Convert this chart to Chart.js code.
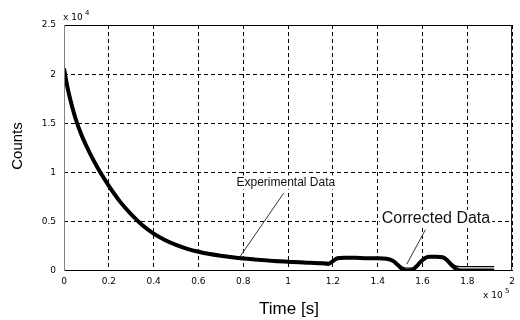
<!DOCTYPE html>
<html>
<head>
  <meta charset="UTF-8" />
  <title>Counts vs Time</title>
  <script src="https://cdn.jsdelivr.net/npm/chart.js"></script>
  <style>
    body { margin: 0; background: #fff; }
    #chart { display: block; }
  </style>
</head>
<body>
  <canvas id="chart" width="520" height="320"></canvas>
  <script>
    // time in units of 1e5 s, counts in units of 1e4
    const timeExp = [0, 0.01, 0.025, 0.05, 0.075, 0.1, 0.125, 0.15, 0.175, 0.2, 0.25, 0.3, 0.35, 0.4, 0.45, 0.5, 0.55, 0.6, 0.65, 0.7, 0.75, 0.8, 0.85, 0.9, 0.95, 1.0, 1.05, 1.1, 1.15, 1.18, 1.2, 1.22, 1.25, 1.3, 1.35, 1.4, 1.44, 1.47, 1.49, 1.51, 1.53, 1.55, 1.57, 1.59, 1.61, 1.63, 1.66, 1.69, 1.71, 1.73, 1.75, 1.77, 1.8, 1.85, 1.9, 1.92];
    const experimental = [2.06, 1.93, 1.77, 1.56, 1.40, 1.27, 1.155, 1.05, 0.955, 0.865, 0.705, 0.575, 0.465, 0.38, 0.315, 0.265, 0.225, 0.195, 0.172, 0.155, 0.14, 0.127, 0.117, 0.108, 0.10, 0.094, 0.088, 0.083, 0.078, 0.072, 0.10, 0.13, 0.135, 0.135, 0.13, 0.13, 0.125, 0.10, 0.06, 0.02, 0.0, 0.005, 0.04, 0.09, 0.13, 0.145, 0.145, 0.14, 0.11, 0.06, 0.02, 0.005, 0.005, 0.005, 0.005, 0.005];
    const corrected = [2.06, 1.93, 1.77, 1.57, 1.41, 1.28, 1.165, 1.06, 0.965, 0.875, 0.715, 0.585, 0.475, 0.39, 0.325, 0.275, 0.235, 0.205, 0.182, 0.165, 0.15, 0.137, 0.127, 0.118, 0.11, 0.104, 0.098, 0.093, 0.088, 0.087, 0.11, 0.135, 0.14, 0.14, 0.135, 0.135, 0.13, 0.11, 0.075, 0.04, 0.03, 0.03, 0.05, 0.095, 0.135, 0.15, 0.15, 0.145, 0.12, 0.08, 0.05, 0.045, 0.045, 0.045, 0.045, 0.045];

    const xTicks = [0, 0.2, 0.4, 0.6, 0.8, 1, 1.2, 1.4, 1.6, 1.8, 2];
    const yTicks = [0, 0.5, 1, 1.5, 2, 2.5];

    // annotation text and leader lines, in data units
    const notes = [
      { text: 'Experimental Data', x: 0.99, y: 0.90, size: 12, from: [0.98, 0.79], to: [0.787, 0.15] },
      { text: 'Corrected Data', x: 1.66, y: 0.53, size: 16, from: [1.613, 0.42], to: [1.53, 0.07] }
    ];

    function pts(xs, ys) {
      return xs.map((x, i) => ({ x: x, y: ys[i] }));
    }

    const framePlugin = {
      id: 'frame',
      afterDatasetsDraw(chart) {
        const ctx = chart.ctx;
        const a = chart.chartArea;
        const xs = chart.scales.x, ys = chart.scales.y;
        ctx.save();
        ctx.lineWidth = 1;
        ctx.strokeStyle = '#000';
        ctx.beginPath();
        ctx.moveTo(a.left, a.top + 0.5);
        ctx.lineTo(a.right - 0.5, a.top + 0.5);
        ctx.lineTo(a.right - 0.5, a.bottom - 0.5);
        ctx.lineTo(a.left, a.bottom - 0.5);
        ctx.stroke();
        ctx.strokeStyle = '#808080';
        ctx.beginPath();
        ctx.moveTo(a.left + 0.5, a.top);
        ctx.lineTo(a.left + 0.5, a.bottom);
        ctx.stroke();

        // leader lines + labels
        notes.forEach(n => {
          ctx.strokeStyle = '#333';
          ctx.lineWidth = 1;
          ctx.beginPath();
          ctx.moveTo(xs.getPixelForValue(n.from[0]), ys.getPixelForValue(n.from[1]));
          ctx.lineTo(xs.getPixelForValue(n.to[0]), ys.getPixelForValue(n.to[1]));
          ctx.stroke();
          const tx = xs.getPixelForValue(n.x), ty = ys.getPixelForValue(n.y);
          ctx.font = n.size + 'px "Liberation Sans", Arial, sans-serif';
          const w = ctx.measureText(n.text).width;
          ctx.fillStyle = '#fff';
          ctx.fillRect(tx - w / 2 - 2, ty - n.size / 2 - 1, w + 4, n.size + 2);
          ctx.fillStyle = '#111';
          ctx.textAlign = 'center';
          ctx.textBaseline = 'middle';
          ctx.fillText(n.text, tx, ty);
        });

        // axis titles and exponent labels
        ctx.fillStyle = '#000';
        ctx.textAlign = 'center';
        ctx.textBaseline = 'middle';
        ctx.font = '17px "Liberation Sans", Arial, sans-serif';
        ctx.fillText('Time [s]', 289, 309);
        ctx.save();
        ctx.translate(18, 146);
        ctx.rotate(-Math.PI / 2);
        ctx.font = '15px "Liberation Sans", Arial, sans-serif';
        ctx.fillText('Counts', 0, 0);
        ctx.restore();

        ctx.textAlign = 'left';
        ctx.font = '9px "DejaVu Sans", sans-serif';
        ctx.fillText('x 10', 63, 18);
        ctx.font = '7px "DejaVu Sans", sans-serif';
        ctx.fillText('4', 85, 13);
        ctx.font = '9px "DejaVu Sans", sans-serif';
        ctx.fillText('x 10', 483, 296);
        ctx.font = '7px "DejaVu Sans", sans-serif';
        ctx.fillText('5', 505, 291);
        ctx.restore();
      }
    };

    const tickFont = { family: '"DejaVu Sans", sans-serif', size: 9 };
    const hideEdge = c => (c.tick && c.tick.value === 0) ? 'rgba(0,0,0,0)' : '#000';

    new Chart(document.getElementById('chart').getContext('2d'), {
      type: 'line',
      data: {
        datasets: [
          {
            label: 'Experimental Data',
            data: pts(timeExp, experimental),
            borderColor: '#000',
            borderWidth: 4,
            pointRadius: 0,
            cubicInterpolationMode: 'monotone'
          },
          {
            label: 'Corrected Data',
            data: pts(timeExp, corrected),
            borderColor: '#000',
            borderWidth: 1.2,
            pointRadius: 0,
            cubicInterpolationMode: 'monotone'
          },
          {
            label: 'markers',
            data: pts(timeExp, experimental),
            borderColor: '#fff',
            borderWidth: 1,
            borderDash: [3, 3],
            pointRadius: 0,
            cubicInterpolationMode: 'monotone',
            segment: {
              borderColor: c => c.p0.parsed.x < 0.3 ? 'rgba(0,0,0,0)' : 'rgba(255,255,255,0.9)'
            }
          }
        ]
      },
      options: {
        responsive: false,
        animation: false,
        layout: { padding: { top: 25, right: 1, left: 0, bottom: 0 } },
        plugins: { legend: { display: false }, tooltip: { enabled: false } },
        scales: {
          x: {
            type: 'linear',
            min: 0,
            max: 2,
            afterBuildTicks: s => { s.ticks = xTicks.map(v => ({ value: v })); },
            afterFit: s => { s.height = 49; },
            ticks: {
              font: tickFont,
              color: '#000',
              padding: 5,
              maxRotation: 0,
              autoSkip: false,
              callback: v => String(Number(v.toFixed(1)))
            },
            grid: { color: hideEdge, lineWidth: 1, drawTicks: false },
            border: { display: false, dash: [4, 3] }
          },
          y: {
            min: 0,
            max: 2.5,
            afterBuildTicks: s => { s.ticks = yTicks.map(v => ({ value: v })); },
            afterFit: s => { s.width = 64; },
            ticks: {
              font: tickFont,
              color: '#000',
              padding: 8,
              autoSkip: false,
              callback: v => String(Number(v.toFixed(1)))
            },
            grid: { color: hideEdge, lineWidth: 1, drawTicks: false },
            border: { display: false, dash: [4, 3] }
          }
        }
      },
      plugins: [framePlugin]
    });
  </script>
</body>
</html>
